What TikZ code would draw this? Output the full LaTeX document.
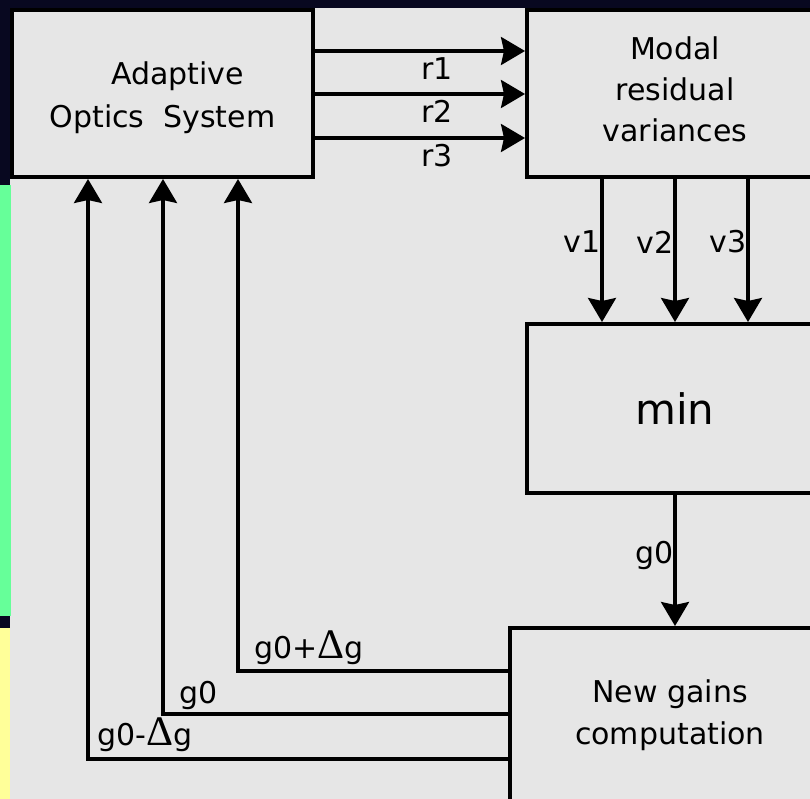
\documentclass[tikz,border=0pt]{standalone}
\usepackage{fontspec}
\setmainfont{DejaVu Sans}
\newfontfamily\deltafont{Liberation Serif}
\usetikzlibrary{arrows.meta, positioning, calc}
\definecolor{bggray}{RGB}{230,230,230}
\definecolor{navy}{RGB}{8,8,32}
\definecolor{stripgreen}{RGB}{102,255,153}
\definecolor{stripyellow}{RGB}{255,255,153}
\newcommand{\dgain}{{\deltafont\fontsize{42}{42}\selectfont Δ}g}
\tikzset{
  box/.style={rectangle, draw=black, fill=bggray, line width=4pt},
  boxtext/.style={align=center, font=\fontsize{30}{42}\selectfont},
  arrow/.style={-{Stealth[length=24pt,width=28pt,inset=3pt]}, line width=3.2pt},
  lab/.style={inner sep=0pt, font=\fontsize{30}{36}\selectfont}
}

\begin{document}
\begin{tikzpicture}[x=1pt, y=-1pt]
  \useasboundingbox (0,0) rectangle (810,799);
  \clip (0,0) rectangle (810,799);
  % background and side strip
  \fill[navy] (0,0) rectangle (810,799);
  \fill[bggray] (10,8) rectangle (810,799);
  \fill[stripgreen] (0,185) rectangle (11,616);
  \fill[stripyellow] (0,628) rectangle (10,799);

  \node[box, minimum width=301pt, minimum height=167pt] (aos) at (162.5,93.5) {};
  \node[box, minimum width=296pt, minimum height=167pt] (modal) at (675,93.5) {};
  \node[box, minimum width=296pt, minimum height=169pt] (min) at (675,408.5) {};
  \node[box, anchor=north west, minimum width=330pt, minimum height=220pt] (gains) at (508,626) {};

  \node[boxtext, font=\fontsize{30}{43}\selectfont] (aostext) at ($(aos.center)+(0,4)$)
    {\hspace*{30pt}Adaptive\\Optics~~System};
  \node[boxtext, font=\fontsize{30}{41}\selectfont] (modaltext) at ($(modal.center)+(0,-4)$)
    {Modal\\residual\\variances};
  \node[boxtext, font=\fontsize{42}{48}\selectfont] (mintext) at (min.center) {min};
  \node[boxtext, font=\fontsize{30}{42}\selectfont] (gainstext) at (670,715) {New gains\\computation};

  \foreach \y/\r in {51/r1, 94/r2, 138/r3} {
    \coordinate (ry) at (0,\y);
    \draw[arrow] (aos.east |- ry) -- node[lab, below=5pt, pos=0.58]{\r} (modal.west |- ry);
  }
  \foreach \x/\v in {602/v1, 675/v2, 748/v3} {
    \coordinate (vx) at (\x,0);
    \draw[arrow] (modal.south -| vx) -- node[lab, left=0pt, pos=0.44]{\v} (min.north -| vx);
  }
  \draw[arrow] (min.south) -- node[lab, left=0pt, pos=0.46]{g0} (gains.north -| min.south);

  \foreach \x/\y/\t/\dx/\dy in {238/671/{g0+\dgain}/15/13, 163/714/{g0}/15/11, 88/759/{g0-\dgain}/8/14} {
    \coordinate (fx) at (\x,\y);
    \draw[arrow] (gains.west |- fx) -| node[lab, pos=0.5, anchor=base west, xshift=\dx pt, yshift=\dy pt]{\t} (aos.south -| fx);
  }
\end{tikzpicture}
\end{document}
